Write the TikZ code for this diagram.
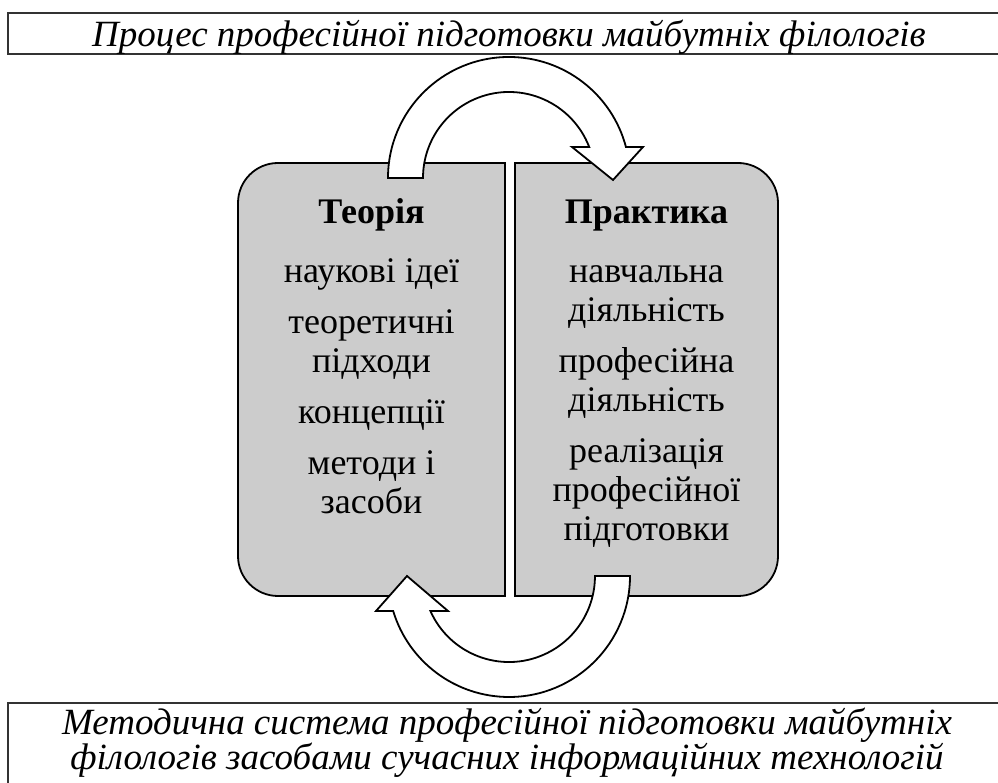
\documentclass[tikz,border=0pt]{standalone}
\usepackage{fontspec}
\setmainfont{Liberation Serif}
\definecolor{panelgray}{RGB}{204,204,204}
\begin{document}
\begin{tikzpicture}[
    x=1pt, y=1pt,
    frame/.style={draw=black!80, line width=1.3pt},
    panel/.style={draw=black, line width=1.8pt, fill=panelgray},
    turn/.style={draw=black, line width=1.8pt, fill=white},
    title/.style={anchor=base, inner sep=0pt, font=\fontsize{37}{35}\selectfont\itshape},
    body/.style={anchor=base, inner sep=0pt, align=center, font=\fontsize{36}{39}\selectfont}
    ]
    \useasboundingbox (0,0) rectangle (998,783);
    \clip (0,0) rectangle (998,783);
    \draw[frame] (8,770) rectangle (1010,729);
    \draw[frame] (8,80) rectangle (1010,-10);
    \draw[panel] (505,620) -- (278,620) arc[start angle=90, end angle=180, radius=40]
        -- (238,227) arc[start angle=180, end angle=270, radius=40] -- (505,187) -- cycle;
    \draw[panel] (515,620) -- (738,620) arc[start angle=90, end angle=0, radius=40]
        -- (778,227) arc[start angle=0, end angle=-90, radius=40] -- (515,187) -- cycle;
    \draw[turn] (388,605) arc[start angle=180, end angle=14.84, radius=121]
        -- (643,636) -- (613,603) -- (572,636) -- (589.2,636)
        arc[start angle=21.13, end angle=180, radius=86] -- cycle;
    \draw[turn] (630,207) arc[start angle=0, end angle=-163.2, radius=121]
        -- (376,172) -- (407,207) -- (448,172) -- (430.4,172)
        arc[start angle=-156, end angle=0, radius=86] -- cycle;
    \node[title] (process) at (509,736) {Процес професійної підготовки майбутніх філологів};
    \node[title, align=center] (method) at (507,13) {Методична система професійної підготовки майбутніх\\філологів засобами сучасних інформаційних технологій};
    \node[body] (theory) at (371.5,269) {\textbf{Теорія}\\[20pt]наукові ідеї\\[12pt]теоретичні\\підходи\\[12pt]концепції\\[12pt]методи і\\засоби};
    \node[body] (practice) at (646.5,242) {\textbf{Практика}\\[20pt]навчальна\\діяльність\\[12pt]професійна\\діяльність\\[12pt]реалізація\\професійної\\підготовки};
\end{tikzpicture}
\end{document}
